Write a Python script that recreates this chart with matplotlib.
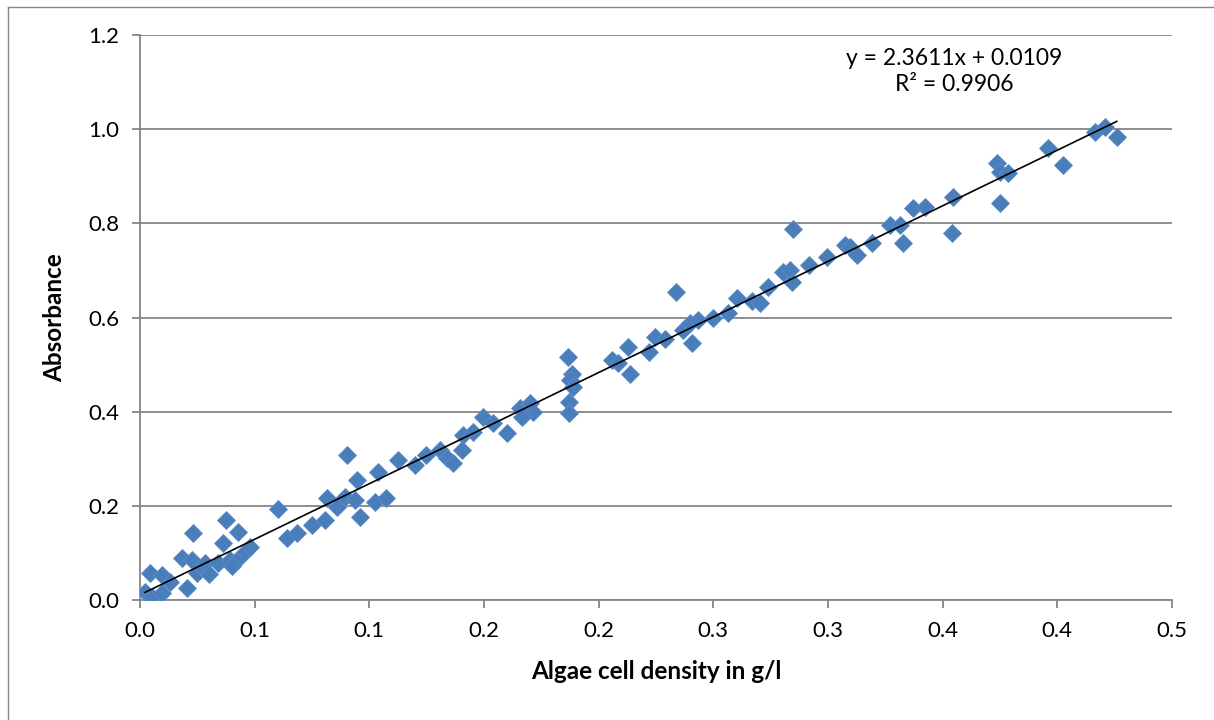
import numpy as np
import matplotlib
matplotlib.use('Agg')
from matplotlib import pyplot as plt
from matplotlib.lines import Line2D

# data
density = [0.0044, 0.0022, 0.0051, 0.0095, 0.0095, 0.0131, 0.0182, 0.0204, 0.0225, 0.0232,
           0.0247, 0.0269, 0.0283, 0.0341, 0.0363, 0.0374, 0.0392, 0.0422, 0.0429, 0.0458,
           0.0480, 0.0600, 0.0640, 0.0683, 0.0749, 0.0807, 0.0814, 0.0858, 0.0901, 0.0894,
           0.0945, 0.0959, 0.0938, 0.1025, 0.1039, 0.1073, 0.1126, 0.1199, 0.1249, 0.1308,
           0.1337, 0.1366, 0.1410, 0.1403, 0.1453, 0.1494, 0.1541, 0.1602, 0.1657, 0.1701,
           0.1715, 0.1664, 0.1868, 0.1882, 0.1875, 0.1887, 0.1872, 0.1872, 0.2057, 0.2086,
           0.2129, 0.2137, 0.2219, 0.2246, 0.2289, 0.2337, 0.2369, 0.2398, 0.2406, 0.2435,
           0.2500, 0.2565, 0.2602, 0.2667, 0.2704, 0.2740, 0.2805, 0.2834, 0.2842, 0.2849,
           0.2918, 0.2994, 0.3074, 0.3096, 0.3125, 0.3191, 0.3270, 0.3314, 0.3328, 0.3372,
           0.3423, 0.3539, 0.3546, 0.3736, 0.3750, 0.3786, 0.3750, 0.3960, 0.4023, 0.4164,
           0.4208, 0.4259, 0.0300, 0.0400]
absorbance = [0.058, 0.018, 0.007, 0.053, 0.015, 0.039, 0.089, 0.025, 0.085, 0.142,
              0.057, 0.071, 0.079, 0.079, 0.121, 0.170, 0.085, 0.085, 0.145, 0.103,
              0.113, 0.193, 0.131, 0.143, 0.159, 0.170, 0.216, 0.198, 0.308, 0.219,
              0.255, 0.177, 0.212, 0.209, 0.272, 0.216, 0.297, 0.287, 0.308, 0.319,
              0.302, 0.290, 0.350, 0.319, 0.357, 0.388, 0.375, 0.354, 0.407, 0.418,
              0.400, 0.389, 0.517, 0.481, 0.467, 0.452, 0.421, 0.397, 0.510, 0.503,
              0.538, 0.480, 0.527, 0.559, 0.554, 0.655, 0.573, 0.588, 0.545, 0.595,
              0.598, 0.609, 0.641, 0.634, 0.631, 0.665, 0.697, 0.701, 0.676, 0.787,
              0.712, 0.728, 0.754, 0.750, 0.733, 0.758, 0.797, 0.797, 0.758, 0.832,
              0.835, 0.779, 0.855, 0.928, 0.910, 0.906, 0.844, 0.959, 0.924, 0.995,
              1.005, 0.984, 0.055, 0.072]

slope = 2.3611
intercept = 0.0109
r_squared = 0.9906

x_ticks = [0.0, 0.05, 0.10, 0.15, 0.20, 0.25, 0.30, 0.35, 0.40, 0.45]
x_tick_labels = ['0.0', '0.1', '0.1', '0.2', '0.2', '0.3', '0.3', '0.4', '0.4', '0.5']
y_ticks = [0.0, 0.2, 0.4, 0.6, 0.8, 1.0, 1.2]
y_tick_labels = ['0.0', '0.2', '0.4', '0.6', '0.8', '1.0', '1.2']

plt.rcParams['font.family'] = ['Lato', 'DejaVu Sans']
plt.rcParams['font.size'] = 16

grey = '#868686'
blue = '#4A7EBB'

fig = plt.figure(figsize=(12.14, 7.2), dpi=100)
ax = fig.add_axes([140 / 1214, 1 - 600 / 720, 1032 / 1214, 565 / 720])

x = np.array(density)
ax.plot(x, absorbance, linestyle='none', marker='D', markersize=9.3,
        color=blue, markeredgecolor='#5B8CC8', markeredgewidth=0.6, zorder=3)

xs = np.array([x.min(), x.max()])
ax.plot(xs, slope * xs + intercept, color='black', lw=1.2, zorder=4)

ax.set_xlim(0, 0.45)
ax.set_ylim(0, 1.2)
ax.set_xticks(x_ticks)
ax.set_xticklabels(x_tick_labels)
ax.set_yticks(y_ticks)
ax.set_yticklabels(y_tick_labels)

ax.yaxis.grid(True, color=grey, lw=1.3)
ax.set_axisbelow(True)
for s in ['top', 'right']:
    ax.spines[s].set_visible(False)
for s in ['left', 'bottom']:
    ax.spines[s].set_color(grey)
    ax.spines[s].set_linewidth(1.3)
ax.tick_params(axis='both', direction='out', length=6, width=1.3, color=grey,
               labelsize=16)
ax.tick_params(axis='x', pad=9)
ax.tick_params(axis='y', pad=9)

ax.set_xlabel('Algae cell density in g/l', fontsize=17.5, fontweight='bold', labelpad=14)
ax.set_ylabel('Absorbance', fontsize=17.5, fontweight='bold', labelpad=16)

ax.text(0.355, 1.123, 'y = {:.4f}x + {:.4f}\nR² = {:.4f}'.format(slope, intercept, r_squared),
        ha='center', va='center', fontsize=16.5, linespacing=1.3)

# outer chart border
fig.add_artist(Line2D([8 / 1214, 8 / 1214], [0, 1 - 6.5 / 720], transform=fig.transFigure,
                      color=grey, lw=1))
fig.add_artist(Line2D([8 / 1214, 1213 / 1214], [1 - 6.5 / 720, 1 - 6.5 / 720],
                      transform=fig.transFigure, color=grey, lw=1))

fig.savefig('out.png', dpi=100)
